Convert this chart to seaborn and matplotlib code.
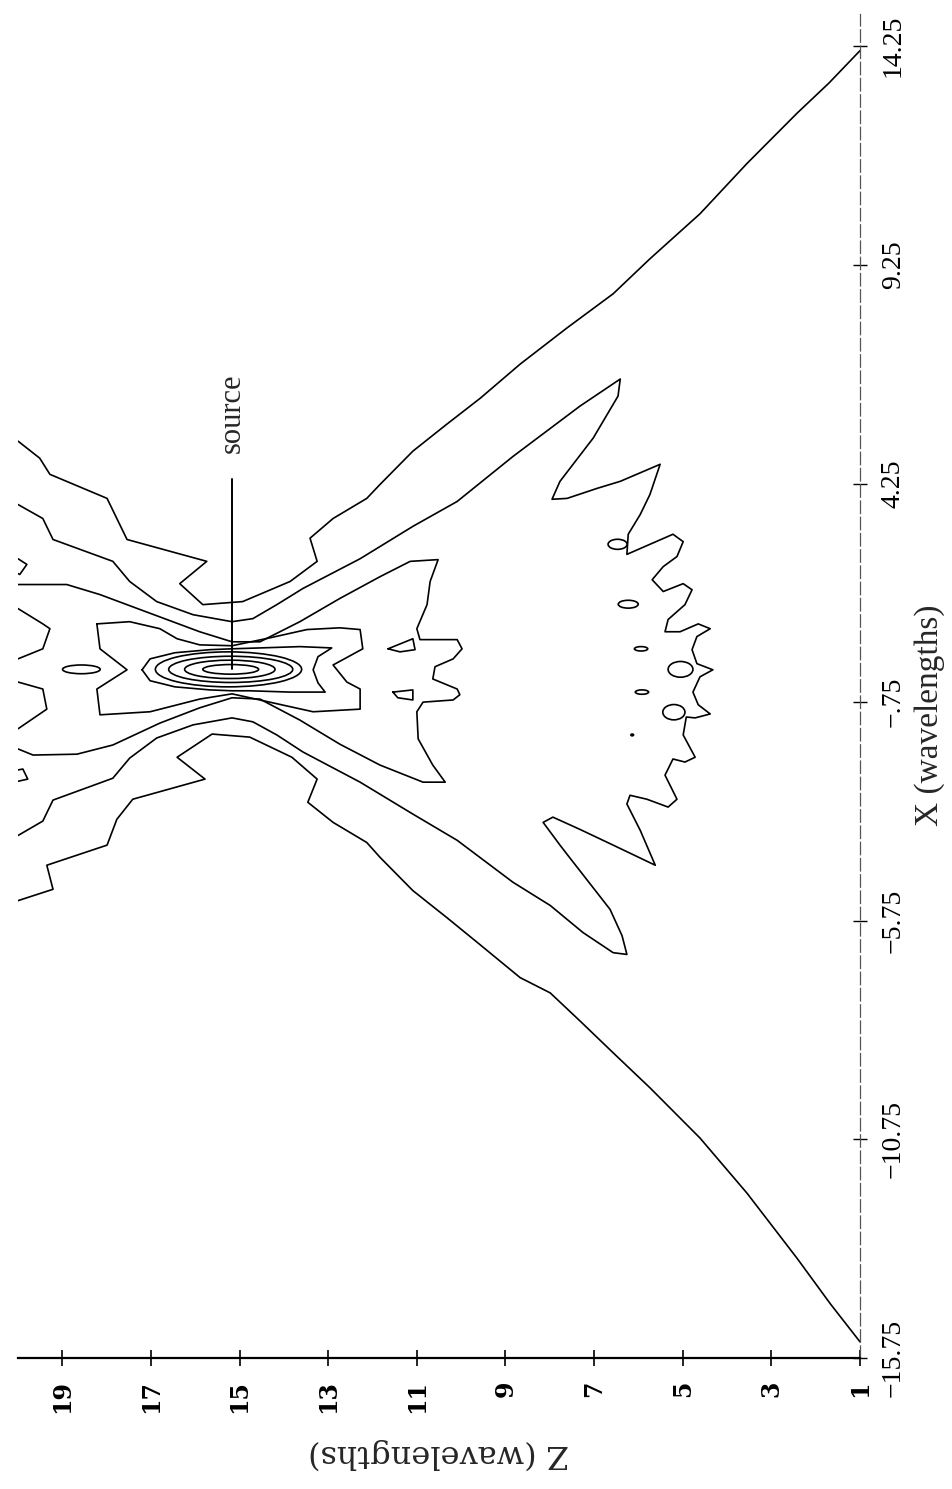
import matplotlib
matplotlib.use("Agg")
import matplotlib.pyplot as plt
from matplotlib.patches import Ellipse
import seaborn as sns
import pandas as pd

# ---- axis data -------------------------------------------------------------
z_ticks = [1, 3, 5, 7, 9, 11, 13, 15, 17, 19]
x_ticks = [-15.75, -10.75, -5.75, -0.75, 4.25, 9.25, 14.25]
x_tick_labels = ["\u221215.75", "\u221210.75", "\u22125.75", "\u2212.75", "4.25", "9.25", "14.25"]

source_z, source_x = 15.17, 0.0

# ---- contour lines (Z, X) in wavelengths -----------------------------------
c1_upper_z = [20.0, 19.51, 19.28, 17.99, 17.54, 15.74, 16.35, 15.83, 14.93, 13.86, 13.25, 13.41,
              12.89, 12.13, 11.83, 11.09, 10.32, 9.57, 8.67, 7.61, 6.57, 5.74, 4.61, 3.55,
              2.42, 1.70, 1.0]
c1_upper_x = [5.22, 4.83, 4.46, 3.91, 2.97, 2.47, 1.96, 1.48, 1.55, 2.01, 2.47, 3.00,
              3.45, 3.91, 4.23, 4.99, 5.61, 6.20, 6.98, 7.81, 8.59, 9.39, 10.42, 11.57,
              12.72, 13.41, 14.15]

c1_lower_z = [20.0, 19.21, 19.35, 17.99, 17.77, 17.41, 15.78, 16.41, 15.62, 14.77, 13.82, 13.25,
              13.46, 12.89, 12.13, 11.83, 11.09, 10.32, 9.57, 8.67, 7.99, 7.32, 6.57, 5.74,
              4.61, 3.55, 2.42, 1.67, 1.0]
c1_lower_x = [-5.29, -5.03, -4.48, -4.02, -3.43, -2.97, -2.51, -2.01, -1.48, -1.55, -2.01, -2.51,
              -3.04, -3.50, -3.96, -4.30, -5.06, -5.68, -6.30, -7.05, -7.40, -8.04, -8.77, -9.57,
              -10.72, -11.98, -13.47, -14.51, -15.38]

c2_z = [20.0, 19.44, 19.21, 17.86, 17.48, 16.87, 16.05, 15.17, 14.70, 14.16, 13.57, 12.28,
        11.09, 10.09, 8.83, 7.32, 6.41, 6.46, 7.02, 7.77, 7.95, 7.61, 6.93, 6.41, 5.51,
        5.74, 5.96, 6.23, 6.26, 5.74, 5.22, 4.99, 5.13, 5.44, 5.69, 5.44, 4.99, 4.79, 4.95,
        5.33, 5.40, 5.06, 4.65, 4.38, 4.68, 4.79, 4.68, 4.32, 4.61, 4.77, 4.65, 4.38, 4.72,
        4.92, 4.99, 4.72, 4.95, 5.22, 5.40, 5.13, 5.33, 5.81, 6.19, 6.26, 5.96, 5.62,
        6.57, 7.32, 7.93, 8.15, 7.77, 7.61, 6.64, 6.37, 6.26, 6.57, 7.25, 7.99, 8.83,
        10.09, 11.09, 12.28, 13.57, 14.16, 14.70, 15.17, 16.05, 16.87, 17.48, 17.86,
        19.21, 19.44, 20.0]
c2_x = [3.77, 3.45, 2.97, 2.47, 2.01, 1.55, 1.25, 1.09, 1.16, 1.48, 1.85, 2.53,
        3.27, 3.84, 4.87, 6.02, 6.64, 6.25, 5.29, 4.30, 3.89, 3.91, 4.14, 4.30, 4.69,
        4.00, 3.54, 3.09, 2.63, 2.86, 3.09, 2.92, 2.58, 2.35, 2.05, 1.78, 1.96, 1.82, 1.48,
        1.14, 0.86, 0.86, 1.04, 0.93, 0.75, 0.45, 0.13, -0.01, -0.17, -0.52, -0.81, -1.02, -1.11,
        -1.09, -1.50, -2.01, -2.12, -2.05, -2.42, -2.97, -3.15, -2.97, -2.88, -3.08, -3.68, -4.48,
        -4.02, -3.66, -3.38, -3.50, -4.02, -4.23, -5.49, -6.09, -6.52, -6.48, -6.02, -5.40, -4.87,
        -3.91, -3.31, -2.58, -1.89, -1.50, -1.20, -1.11, -1.27, -1.57, -2.03, -2.49,
        -2.99, -3.47, -3.80]

c3_z = [20.0, 18.90, 18.15, 17.41, 16.80, 15.90, 15.17, 14.54, 13.64, 12.74, 11.83, 11.15, 10.52,
        10.70, 10.77, 11.00, 10.93, 10.09, 9.98, 10.18, 10.59, 10.64, 10.09, 10.03, 10.18,
        10.86, 11.00, 10.97, 10.64, 10.36, 10.86, 11.83, 12.74, 13.64, 14.54, 15.17, 15.90,
        16.80, 17.86, 18.67, 19.66, 20.0]
c3_x = [1.94, 1.94, 1.71, 1.43, 1.20, 0.86, 0.63, 0.63, 1.09, 1.62, 2.12, 2.47, 2.51,
        2.01, 1.48, 0.93, 0.68, 0.68, 0.47, 0.24, 0.06, -0.22, -0.45, -0.58, -0.70,
        -0.75, -0.97, -1.59, -2.19, -2.58, -2.58, -2.19, -1.71, -1.16, -0.68, -0.65, -0.88,
        -1.23, -1.73, -1.94, -1.96, -1.82]

c4_z = [18.22, 17.48, 16.80, 16.41, 15.90, 15.17, 14.32, 13.48, 12.74, 12.28, 12.22, 12.89,
        12.58, 12.28, 12.28, 13.34, 14.32, 15.17, 15.90, 17.02, 18.15, 18.22, 17.54, 18.15, 18.22]
c4_x = [1.04, 1.09, 0.93, 0.70, 0.56, 0.54, 0.72, 0.91, 0.95, 0.91, 0.47, 0.10,
        -0.29, -0.45, -0.91, -0.97, -0.75, -0.56, -0.68, -0.97, -1.04, -0.45, -0.01, 0.47, 1.04]

c5_z = [17.20, 17.02, 16.46, 15.67, 15.17, 14.54, 13.64, 12.92, 13.23, 13.34, 13.23, 13.07,
        13.86, 14.77, 15.17, 15.67, 16.46, 17.02, 17.20]
c5_x = [-0.01, 0.24, 0.38, 0.45, 0.47, 0.49, 0.52, 0.49, 0.29, -0.01, -0.31, -0.52,
        -0.52, -0.49, -0.49, -0.47, -0.40, -0.26, -0.01]

# inner rings around the source: centre Z, half-length in Z, half-width in X
ring_center_z = [15.20, 15.22, 15.20, 15.25]
ring_half_z = [0.63, 1.02, 1.40, 1.65]
ring_half_x = [0.11, 0.21, 0.30, 0.40]

# small angular loops and edge hooks
islands = {
    "near_upper": ([11.65, 11.09, 11.04, 11.38, 11.65], [0.47, 0.70, 0.45, 0.40, 0.47]),
    "near_lower": ([11.54, 11.09, 11.09, 11.43, 11.54], [-0.52, -0.47, -0.70, -0.65, -0.52]),
    "hook_up": ([20.0, 19.80, 19.96, 20.0], [2.53, 2.40, 2.17, 2.19]),
    "hook_low": ([20.0, 19.89, 19.78, 20.0], [-2.30, -2.28, -2.51, -2.56]),
    "edge_up": ([20.0, 19.44, 19.28, 19.44, 20.0], [1.39, 1.04, 0.93, 0.47, 0.24]),
    "edge_low": ([20.0, 19.44, 19.35, 20.0], [-0.29, -0.45, -0.91, -1.36]),
}

# small rounded loops: centre Z, centre X, length in Z, width in X
loop_z = [18.57, 6.47, 6.23, 5.94, 5.05, 5.92, 5.20, 6.14]
loop_x = [0.0, 2.86, 1.49, 0.47, 0.0, -0.52, -0.98, -1.50]
loop_dz = [0.85, 0.43, 0.45, 0.30, 0.56, 0.30, 0.50, 0.06]
loop_dx = [0.20, 0.23, 0.18, 0.10, 0.36, 0.10, 0.35, 0.04]

# ---- figure ------------------------------------------------------------------
sns.set_theme(style="white")
plt.rcParams["font.family"] = ["DejaVu Serif", "DejaVu Sans"]

fig = plt.figure(figsize=(9.52, 14.89), dpi=100)
ax = fig.add_axes([18 / 952, 1 - 1358 / 1489, 842 / 952, 1344.5 / 1489])

line_kw = dict(color="black", linewidth=1.2, sort=False, estimator=None, legend=False, ax=ax)

open_lines = [(c1_upper_z, c1_upper_x), (c1_lower_z, c1_lower_x), (c2_z, c2_x),
              (c3_z, c3_x), (c4_z, c4_x), (c5_z, c5_x)]
for zs, xs in open_lines + list(islands.values()):
    df = pd.DataFrame({"Z": zs, "X": xs})
    sns.lineplot(data=df, x="Z", y="X", **line_kw)

for cz, hz, hx in zip(ring_center_z, ring_half_z, ring_half_x):
    ax.add_patch(Ellipse((cz, source_x), 2 * hz, 2 * hx, fill=False,
                         edgecolor="black", linewidth=1.2))

for cz, cx, dz, dx in zip(loop_z, loop_x, loop_dz, loop_dx):
    ax.add_patch(Ellipse((cz, cx), dz, dx, fill=False, edgecolor="black", linewidth=1.2))

# source marker and its label
ax.plot([source_z, source_z], [source_x, 4.35], color="black", linewidth=1.4)
ax.text(source_z, 5.85, "source", rotation=90, ha="center", va="center",
        fontsize=22, family="Liberation Serif")

ax.set_xlim(20, 1)
ax.set_ylim(-15.75, 15.0)

for side in ("top", "left"):
    ax.spines[side].set_visible(False)
ax.spines["bottom"].set_color("black")
ax.spines["bottom"].set_linewidth(1.6)
ax.spines["right"].set_color("#555555")
ax.spines["right"].set_linewidth(0.9)
ax.spines["right"].set_linestyle((0, (10, 3)))

ax.set_xticks(z_ticks)
ax.set_xticklabels([str(v) for v in z_ticks], rotation=90, fontsize=17,
                   fontweight="bold", family="DejaVu Serif")
ax.tick_params(axis="x", direction="inout", length=12, width=1.2, colors="black",
               pad=10, bottom=True)

ax.yaxis.tick_right()
ax.set_yticks(x_ticks)
ax.set_yticklabels(x_tick_labels, rotation=90, va="center", fontsize=20,
                   family="Liberation Serif")
ax.tick_params(axis="y", direction="inout", length=10, width=1.0, colors="black",
               pad=10, right=True, left=False)

ax.set_xlabel("Z (wavelengths)", rotation=180, fontsize=23, family="DejaVu Serif",
              labelpad=18)
ax.yaxis.set_label_position("right")
ax.set_ylabel("X (wavelengths)", rotation=90, fontsize=24, family="Liberation Serif")
ax.yaxis.set_label_coords(1.064, 0.478)
ax.grid(False)

fig.savefig("out.png", dpi=100, facecolor="white")
